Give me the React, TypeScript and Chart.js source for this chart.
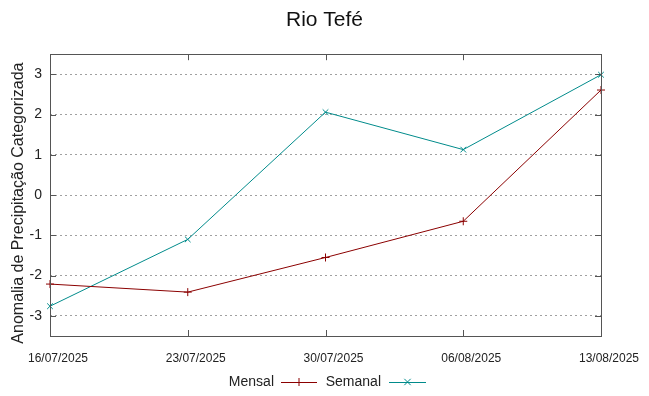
import React, { useEffect, useRef } from "react";
import { Chart, registerables } from "chart.js";

Chart.register(...registerables);

const categories = ["16/07/2025", "23/07/2025", "30/07/2025", "06/08/2025", "13/08/2025"];
const mensal = [-2.21, -2.41, -1.55, -0.65, 2.61];
const semanal = [-2.76, -1.1, 2.06, 1.13, 2.99];
const yTicks = [-3, -2, -1, 0, 1, 2, 3];
const titleText = "Rio Tefé";
const yTitle = "Anomalia de Precipitação Categorizada";
const seriesNames = ["Mensal", "Semanal"];

const RED = "#8b0000";
const TEAL = "#008b8b";
const FONT = '"Liberation Sans", Arial, sans-serif';

const framePlugin = {
  id: "frame",
  afterDraw(chart: any) {
    const { ctx, chartArea: a } = chart;
    const x = chart.scales.x;
    const y = chart.scales.y;
    ctx.save();
    ctx.strokeStyle = "#555";
    ctx.lineWidth = 1;
    ctx.strokeRect(Math.round(a.left) + 0.5, Math.round(a.top) + 0.5, Math.round(a.right - a.left), Math.round(a.bottom - a.top));
    ctx.beginPath();
    const tl = 6;
    yTicks.forEach((v) => {
      const py = Math.round(y.getPixelForValue(v)) + 0.5;
      ctx.moveTo(a.left, py);
      ctx.lineTo(a.left + tl, py);
      ctx.moveTo(a.right, py);
      ctx.lineTo(a.right - tl, py);
    });
    categories.forEach((_, i) => {
      const px = Math.round(x.getPixelForValue(i)) + 0.5;
      ctx.moveTo(px, a.bottom);
      ctx.lineTo(px, a.bottom - tl);
      ctx.moveTo(px, a.top);
      ctx.lineTo(px, a.top + tl);
    });
    ctx.stroke();

    // y-axis title (gnuplot places it slightly below centre)
    ctx.save();
    ctx.font = "16px " + FONT;
    ctx.fillStyle = "#222";
    ctx.textAlign = "center";
    ctx.textBaseline = "middle";
    ctx.translate(19, (a.top + a.bottom) / 2 + 8);
    ctx.rotate(-Math.PI / 2);
    ctx.fillText(yTitle, 0, 0);
    ctx.restore();

    // legend
    ctx.font = "14px " + FONT;
    ctx.fillStyle = "#222";
    ctx.textBaseline = "middle";
    ctx.textAlign = "right";
    const ly = 382;
    const items = [
      { name: seriesNames[0], color: RED, textEnd: 274, lx0: 281, lx1: 317, style: "plus" },
      { name: seriesNames[1], color: TEAL, textEnd: 381, lx0: 389, lx1: 426, style: "x" },
    ];
    items.forEach((it) => {
      ctx.fillText(it.name, it.textEnd, ly);
      ctx.strokeStyle = it.color;
      ctx.lineWidth = 1;
      ctx.beginPath();
      ctx.moveTo(it.lx0, ly + 0.5);
      ctx.lineTo(it.lx1, ly + 0.5);
      const mx = (it.lx0 + it.lx1) / 2;
      const r = 4;
      if (it.style === "plus") {
        ctx.moveTo(mx, ly - r);
        ctx.lineTo(mx, ly + r);
      } else {
        ctx.moveTo(mx - r * 0.8, ly - r * 0.8);
        ctx.lineTo(mx + r * 0.8, ly + r * 0.8);
        ctx.moveTo(mx - r * 0.8, ly + r * 0.8);
        ctx.lineTo(mx + r * 0.8, ly - r * 0.8);
      }
      ctx.stroke();
    });
    ctx.restore();
  },
};

export default function App() {
  const ref = useRef<HTMLCanvasElement>(null);
  useEffect(() => {
    if (!ref.current) return;
    const chart = new Chart(ref.current, {
      type: "line",
      data: {
        labels: categories,
        datasets: [
          {
            label: seriesNames[0],
            data: mensal,
            borderColor: RED,
            backgroundColor: RED,
            borderWidth: 1,
            pointStyle: "cross",
            pointRadius: 4,
            pointBorderWidth: 1,
            tension: 0,
          },
          {
            label: seriesNames[1],
            data: semanal,
            borderColor: TEAL,
            backgroundColor: TEAL,
            borderWidth: 1,
            pointStyle: "crossRot",
            pointRadius: 4,
            pointBorderWidth: 1,
            tension: 0,
          },
        ],
      },
      plugins: [framePlugin],
      options: {
        animation: false,
        responsive: false,
        maintainAspectRatio: false,
        layout: { padding: { left: 0, right: 0, top: 0, bottom: 30 } },
        plugins: {
          legend: { display: false },
          tooltip: { enabled: false },
          title: {
            display: true,
            text: titleText,
            color: "#111",
            font: { family: FONT, size: 21, weight: "normal" },
            padding: { top: 8, bottom: 21 },
          },
        },
        scales: {
          x: {
            type: "category",
            offset: false,
            border: { display: false },
            grid: { display: false, drawTicks: false },
            ticks: {
              color: "#222",
              font: { family: FONT, size: 12 },
              padding: 15,
              labelOffset: 8,
              maxRotation: 0,
              autoSkip: false,
            },
            afterFit: (s: any) => {
              s.height = 30;
            },
          },
          y: {
            min: -3.5,
            max: 3.5,
            border: { display: false, dash: [2, 3] },
            afterBuildTicks: (s: any) => {
              s.ticks = yTicks.map((v) => ({ value: v }));
            },
            grid: {
              color: "#a0a0a0",
              lineWidth: 1,
              drawTicks: false,
            },
            ticks: {
              color: "#222",
              font: { family: FONT, size: 14 },
              padding: 8,
            },
            title: { display: false },
            afterFit: (s: any) => {
              s.width = 50;
            },
          },
          yRight: {
            position: "right",
            min: -3.5,
            max: 3.5,
            border: { display: false },
            grid: { display: false, drawTicks: false },
            ticks: { display: false },
            afterFit: (s: any) => {
              s.width = 48;
            },
          },
        },
      } as any,
    });
    return () => chart.destroy();
  }, []);
  return (
    <div style={{ position: "fixed", left: 0, top: 0, width: 649, height: 396, background: "#fff" }}>
      <canvas ref={ref} width={649} height={396} style={{ width: 649, height: 396 }} />
    </div>
  );
}
